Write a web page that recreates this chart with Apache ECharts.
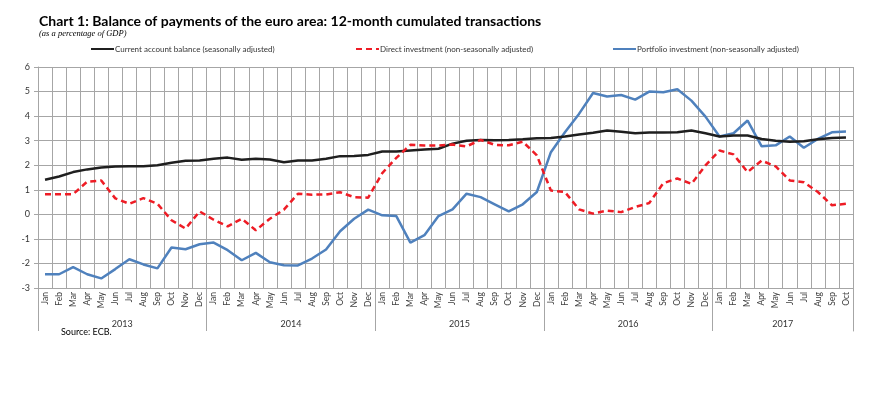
<!DOCTYPE html>
<html>
<head>
<meta charset="utf-8">
<script src="https://cdn.jsdelivr.net/npm/echarts@6/dist/echarts.min.js"></script>
<style>
  html, body { margin: 0; padding: 0; background: #fff; }
  #chart { width: 870px; height: 400px; }
</style>
</head>
<body>
<div id="chart"></div>
<script>
var years = ['2013', '2014', '2015', '2016', '2017'];
var monthNames = ['Jan', 'Feb', 'Mar', 'Apr', 'May', 'Jun', 'Jul', 'Aug', 'Sep', 'Oct', 'Nov', 'Dec'];
var monthsInYear = [12, 12, 12, 12, 10];

// current account balance (seasonally adjusted)
var currentAccount = [
    1.41, 1.54, 1.72, 1.83, 1.91, 1.95, 1.96, 1.96, 2.00, 2.10, 2.18, 2.19,
    2.26, 2.31, 2.22, 2.26, 2.23, 2.12, 2.19, 2.19, 2.26, 2.37, 2.38, 2.42,
    2.56, 2.56, 2.60, 2.64, 2.67, 2.88, 3.00, 3.03, 3.02, 3.03, 3.06, 3.10,
    3.11, 3.17, 3.25, 3.32, 3.41, 3.36, 3.30, 3.33, 3.33, 3.34, 3.41, 3.30,
    3.17, 3.21, 3.21, 3.07, 3.00, 2.96, 2.98, 3.06, 3.11, 3.13
];
// direct investment (non-seasonally adjusted)
var directInvestment = [
    0.82, 0.82, 0.82, 1.33, 1.38, 0.65, 0.43, 0.66, 0.43, -0.24, -0.58, 0.12,
    -0.22, -0.49, -0.18, -0.65, -0.18, 0.19, 0.84, 0.80, 0.81, 0.90, 0.70, 0.68,
    1.68, 2.30, 2.83, 2.80, 2.80, 2.84, 2.77, 3.03, 2.83, 2.81, 2.96, 2.40,
    0.97, 0.91, 0.20, 0.03, 0.15, 0.09, 0.30, 0.46, 1.27, 1.46, 1.24, 1.99,
    2.60, 2.44, 1.72, 2.19, 1.95, 1.38, 1.31, 0.91, 0.37, 0.43
];
// portfolio investment (non-seasonally adjusted)
var portfolioInvestment = [
    -2.44, -2.44, -2.15, -2.44, -2.61, -2.23, -1.83, -2.04, -2.20, -1.35, -1.42, -1.22,
    -1.15, -1.46, -1.87, -1.57, -1.95, -2.07, -2.08, -1.80, -1.43, -0.69, -0.18, 0.19,
    -0.04, -0.07, -1.15, -0.85, -0.07, 0.20, 0.84, 0.70, 0.41, 0.12, 0.41, 0.91,
    2.53, 3.34, 4.09, 4.94, 4.80, 4.86, 4.67, 5.00, 4.97, 5.09, 4.63, 3.98,
    3.17, 3.30, 3.82, 2.77, 2.81, 3.17, 2.71, 3.07, 3.34, 3.37
];

var seriesNames = [
    'Current account balance (seasonally adjusted)',
    'Direct investment (non-seasonally adjusted)',
    'Portfolio investment (non-seasonally adjusted)'
];

// month categories and where each year label / year separator goes
var categories = [];
var yearLabelIndex = {};
var yearStart = {};
years.forEach(function (y, k) {
    var n = monthsInYear[k];
    yearStart[categories.length] = true;
    yearLabelIndex[categories.length + Math.ceil(n / 2) - 1] = y;
    for (var m = 0; m < n; m++) {
        categories.push(y + '-' + monthNames[m]);
    }
});

var font = 'Lato, "Open Sans", sans-serif';
var gridColor = '#a6a6a6';
var chart = echarts.init(document.getElementById('chart'));

var legendBase = {
    top: 40,
    itemWidth: 23,
    itemHeight: 8,
    itemGap: 2,
    itemStyle: { opacity: 0 },
    textStyle: { fontFamily: font, fontSize: 8, color: '#333', padding: [0, 0, 0, -4] }
};

var option = {
    animation: false,
    title: [{
        text: 'Chart 1: Balance of payments of the euro area: 12-month cumulated transactions',
        subtext: '(as a percentage of GDP)',
        left: 34,
        top: 9,
        itemGap: 1,
        textStyle: { fontFamily: font, fontSize: 14, fontWeight: 'bold', color: '#000' },
        subtextStyle: { fontFamily: '"Liberation Serif", serif', fontSize: 8.5, fontStyle: 'italic', color: '#000' }
    }, {
        text: 'Source: ECB.',
        left: 56,
        top: 323,
        textStyle: { fontFamily: font, fontSize: 9, fontWeight: 'normal', color: '#000' }
    }],
    legend: [
        Object.assign({ left: 85, data: [seriesNames[0]] }, legendBase),
        Object.assign({ left: 350, data: [seriesNames[1]] }, legendBase),
        Object.assign({ left: 607, data: [seriesNames[2]] }, legendBase)
    ],
    grid: [
        { left: 38, right: 17, top: 67, bottom: 112, containLabel: false },
        // band below the plot holding the year labels
        { left: 38, right: 17, top: 288, bottom: 69, containLabel: false }
    ],
    xAxis: [{
        type: 'category',
        gridIndex: 0,
        data: categories,
        boundaryGap: true,
        axisLine: { show: true, lineStyle: { color: gridColor } },
        axisTick: { show: true, length: 3, interval: 0, lineStyle: { color: gridColor } },
        splitLine: { show: true, interval: 0, lineStyle: { color: gridColor, width: 1 } },
        axisLabel: {
            interval: 0,
            rotate: 90,
            margin: 4,
            fontFamily: font,
            fontSize: 8.5,
            color: '#404040',
            formatter: function (v) { return v.split('-')[1]; }
        }
    }, {
        type: 'category',
        gridIndex: 1,
        data: categories,
        position: 'top',
        boundaryGap: true,
        axisLine: { show: false },
        axisTick: { show: false },
        splitLine: {
            show: true,
            interval: function (i) { return !!yearStart[i]; },
            lineStyle: { color: gridColor }
        },
        axisLabel: {
            inside: true,
            interval: function (i) { return yearLabelIndex[i] !== undefined; },
            margin: 32,
            padding: [0, 0, 0, 14],
            fontFamily: font,
            fontSize: 9,
            color: '#333',
            formatter: function (v, i) { return yearLabelIndex[i] || ''; }
        }
    }],
    yAxis: [{
        type: 'value',
        gridIndex: 0,
        min: -3,
        max: 6,
        interval: 1,
        axisLine: { show: true, lineStyle: { color: gridColor } },
        axisTick: { show: true, length: 4, lineStyle: { color: gridColor } },
        splitLine: { show: true, lineStyle: { color: gridColor, width: 1 } },
        axisLabel: { fontFamily: font, fontSize: 9, color: '#333', margin: 8 }
    }, {
        // closes the year band at the right edge
        type: 'value',
        gridIndex: 1,
        position: 'right',
        axisLine: { show: true, lineStyle: { color: gridColor } },
        axisTick: { show: false },
        axisLabel: { show: false },
        splitLine: { show: false }
    }],
    series: [{
        name: seriesNames[0],
        type: 'line',
        data: currentAccount,
        symbol: 'none',
        lineStyle: { color: '#1f1f1f', width: 2.5 },
        itemStyle: { color: '#1f1f1f' },
        z: 3
    }, {
        name: seriesNames[1],
        type: 'line',
        data: directInvestment,
        symbol: 'none',
        lineStyle: { color: '#ee1c25', width: 2.5, type: [6, 4] },
        itemStyle: { color: '#ee1c25' },
        z: 4
    }, {
        name: seriesNames[2],
        type: 'line',
        data: portfolioInvestment,
        symbol: 'none',
        lineStyle: { color: '#4f81bd', width: 2.5 },
        itemStyle: { color: '#4f81bd' },
        z: 2
    }]
};

chart.setOption(option);
</script>
</body>
</html>
